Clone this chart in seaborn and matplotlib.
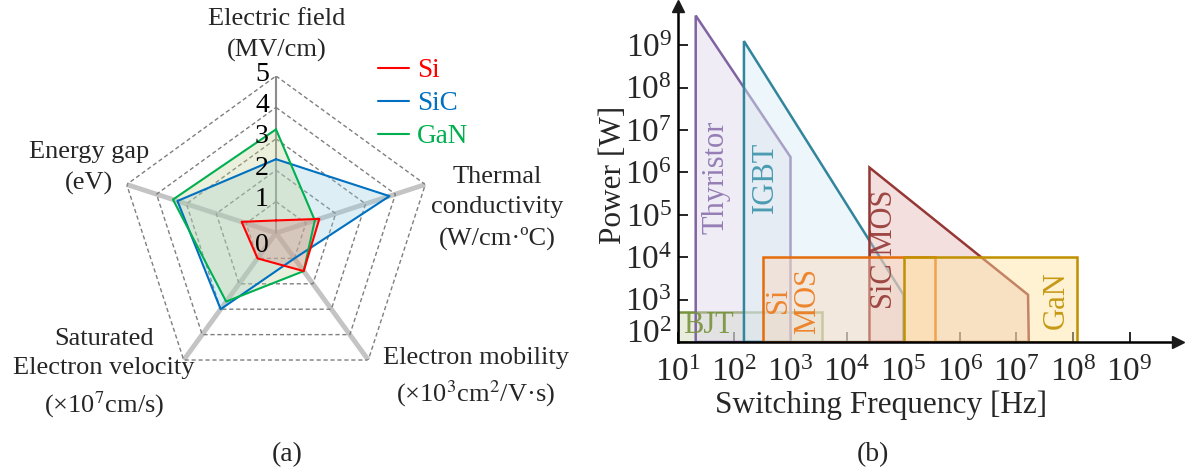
import numpy as np
import matplotlib
matplotlib.use("Agg")
import matplotlib.pyplot as plt
import matplotlib.transforms as mtransforms
from matplotlib.lines import Line2D
import seaborn as sns

sns.set_theme(style="white")
plt.rcParams['font.family'] = ['Liberation Serif', 'DejaVu Serif']
plt.rcParams['mathtext.fontset'] = 'stix'

# ---------------- data: radar (a) ----------------
categories = ["Electric field\n(MV/cm)",
              "Thermal\nconductivity\n(W/cm·ºC)",
              "Electron mobility\n(×10$^3$cm$^2$/V·s)",
              "Saturated\nElectron velocity\n(×10$^7$cm/s)",
              "Energy gap\n(eV)"]
materials = ["Si", "SiC", "GaN"]
si_vals = [0.4, 1.45, 1.5, 1.0, 1.15]
sic_vals = [2.35, 3.8, 1.0, 3.0, 3.3]
gan_vals = [3.3, 1.3, 1.5, 2.7, 3.45]
ring_levels = [0, 1, 2, 3, 4, 5]

# ---------------- data: power vs frequency (b) ----------------
dev_names = ["BJT", "Thyristor", "IGBT", "SiC MOS", "Si MOS", "GaN"]
bjt_f = [10, 10, 3.6e3, 3.6e3]
bjt_p = [1e2, 5e2, 5e2, 1e2]
thy_f = [21, 21, 1e3, 1e3]
thy_p = [1e2, 5e9, 2.3e6, 1e2]
igbt_f = [150, 150, 1e5, 1e5]
igbt_p = [1e2, 1.25e9, 1.3e3, 1e2]
sicmos_f = [2.5e4, 2.5e4, 1.6e7, 1.65e7]
sicmos_p = [1e2, 1.3e6, 1.3e3, 1e2]
simos_f = [3.2e2, 3.2e2, 3.6e5, 3.6e5]
simos_p = [1e2, 1e4, 1e4, 1e2]
gan_f = [1e5, 1e5, 1.2e8, 1.2e8]
gan_p = [1e2, 1e4, 1e4, 1e2]
x_ticks = [1e1, 1e2, 1e3, 1e4, 1e5, 1e6, 1e7, 1e8, 1e9]
y_ticks = [1e2, 1e3, 1e4, 1e5, 1e6, 1e7, 1e8, 1e9]

# label text and positions (data coords)
dev_labels = ["BJT", "Thyristor", "IGBT", "SiC MOS", "Si\nMOS", "GaN"]
dev_label_rot = [0, 90, 90, 90, 90, 90]
label_f = [35, 49, 355, 4.6e4, 1.1e3, 5.1e7]
label_p = [250, 7.6e5, 7.6e5, 1.5e4, 940, 980]

# ---------------- styles ----------------
mat_colors = {"Si": "#ff0000", "SiC": "#0070c0", "GaN": "#00b050"}
mat_fill = {"Si": "#dc8281", "SiC": "#91cae1", "GaN": "#c0d091"}
dev_edge = ["#77933c", "#8064a2", "#31859c", "#953735", "#e46c0a", "#c09000"]
dev_face = ["#ccd9b6", "#ded5e9", "#d9edf4", "#e7baba", "#f9d8bc", "#ffe49f"]
dev_text = ["#77933c", "#8a72ae", "#3a93aa", "#953735", "#ee7a1a", "#c09000"]

W, H = 1185, 471
fig = plt.figure(figsize=(W / 100, H / 100), dpi=100)

# ================= radar =================
cx, cy, R = 276, 233, 157
axr = fig.add_axes([(cx - R) / W, (H - cy - R) / H, 2 * R / W, 2 * R / H],
                   projection='polar')
axr.set_theta_offset(np.pi / 2)
axr.set_theta_direction(-1)
axr.set_ylim(0, 5)
axr.set_xticks([])
axr.set_yticks([])
axr.grid(False)
axr.spines['polar'].set_visible(False)
axr.patch.set_alpha(0)

angles = np.arange(len(categories)) * 2 * np.pi / len(categories)
closed = np.r_[angles, angles[0]]

for a in angles[1:]:
    axr.plot([a, a], [0, 5], color="#c4c4c4", lw=3.5, solid_capstyle='butt', zorder=1)
axr.plot([0, 0], [0, 5], color="#8c8c8c", lw=1.5, zorder=1)
for k in ring_levels[1:]:
    axr.plot(closed, [k] * len(closed), color="#7f7f7f", lw=1.0,
             ls=(0, (3, 2)), zorder=1)

for name, vals in [("SiC", sic_vals), ("GaN", gan_vals), ("Si", si_vals)]:
    v = np.r_[vals, vals[0]]
    axr.fill(closed, v, facecolor=mat_fill[name], alpha=0.3, edgecolor='none', zorder=2)
    sns.lineplot(x=closed, y=v, ax=axr, sort=False, estimator=None,
                 color=mat_colors[name], lw=1.5, zorder=3)
axr.set_xlabel("")
axr.set_ylabel("")

for k in ring_levels:
    dy = -12 if k == 0 else 2
    tr = mtransforms.offset_copy(axr.transData, fig=fig, x=-14, y=dy, units='dots')
    axr.text(0, k, str(k), transform=tr, ha='center', va='center', fontsize=20,
             color='black', zorder=5)

cat_pos = [(277, 35), (497, 208), (476, 378), (104, 374), (89, 168)]
for lab, (px, py) in zip(categories, cat_pos):
    fig.text(px / W, 1 - py / H, lab, ha='center', va='center', fontsize=19,
             linespacing=1.45, multialignment='center')

handles = [Line2D([], [], color=mat_colors[m], lw=1.5) for m in materials]
leg = fig.legend(handles, materials, loc='upper left',
                 bbox_to_anchor=(378 / W, 1 - 58 / H), frameon=False,
                 fontsize=19.5, handlelength=1.15, handletextpad=0.3,
                 labelspacing=0.3, borderpad=0, borderaxespad=0)
for t, m in zip(leg.get_texts(), materials):
    t.set_color(mat_colors[m])

fig.text(287 / W, 1 - 455 / H, "(a)", ha='center', va='center', fontsize=20)

# ================= power vs frequency =================
x0, y0 = 677.5, 342
dec_x, dec_y = 56.5, 42.4
xmax_log, ymax_log = 9.85, 9.92
axw = (xmax_log - 1) * dec_x
axh = (ymax_log - 2) * dec_y
ax = fig.add_axes([x0 / W, (H - y0) / H, axw / W, axh / H])
ax.set_xscale('log')
ax.set_yscale('log')
ax.set_xlim(10, 10 ** xmax_log)
ax.set_ylim(1e2, 10 ** ymax_log)

polys = [(bjt_f, bjt_p), (thy_f, thy_p), (igbt_f, igbt_p),
         (sicmos_f, sicmos_p), (simos_f, simos_p), (gan_f, gan_p)]
for i, (f, p) in enumerate(polys):
    face = matplotlib.colors.to_rgba(dev_face[i], 0.45)
    ax.fill(f, p, facecolor=face, edgecolor=dev_edge[i], lw=1.8, zorder=2 + i)

for i, lab in enumerate(dev_labels):
    ax.text(label_f[i], label_p[i], lab, rotation=dev_label_rot[i], ha='center',
            va='center', fontsize=22, color=dev_text[i], linespacing=1.0,
            zorder=10, alpha=0.9)

for s in ['top', 'right']:
    ax.spines[s].set_visible(False)
for s in ['left', 'bottom']:
    ax.spines[s].set_color('black')
    ax.spines[s].set_linewidth(1.8)
    ax.spines[s].set_zorder(20)
ax.plot(1, 0, ">k", transform=ax.transAxes, clip_on=False, ms=9, zorder=21)
ax.plot(0, 1, "^k", transform=ax.transAxes, clip_on=False, ms=9, zorder=21)

ax.set_xticks(x_ticks)
ax.set_yticks(y_ticks)
ax.xaxis.set_minor_locator(matplotlib.ticker.NullLocator())
ax.yaxis.set_minor_locator(matplotlib.ticker.NullLocator())
ax.tick_params(axis='both', direction='in', length=7, width=1.2, color='black',
               labelsize=24, bottom=True, left=True)
ax.tick_params(axis='x', pad=11)
ax.tick_params(axis='y', pad=4)
ax.set_facecolor('white')
ax.grid(False)

fig.canvas.draw()
ylabs = ax.get_yticklabels()
ylabs[0].set_transform(ylabs[0].get_transform() +
                       mtransforms.ScaledTranslation(0, 8 / 72, fig.dpi_scale_trans))

ax.set_xlabel("Switching Frequency [Hz]", fontsize=22.5)
ax.set_ylabel("Power [W]", fontsize=22.5)
ax.xaxis.set_label_coords((881 - x0) / axw, (y0 - 390) / axh)
ax.yaxis.set_label_coords((628 - x0) / axw, (y0 - 175) / axh)

fig.text(873 / W, 1 - 455 / H, "(b)", ha='center', va='center', fontsize=20)

fig.savefig("out.png", dpi=100)
